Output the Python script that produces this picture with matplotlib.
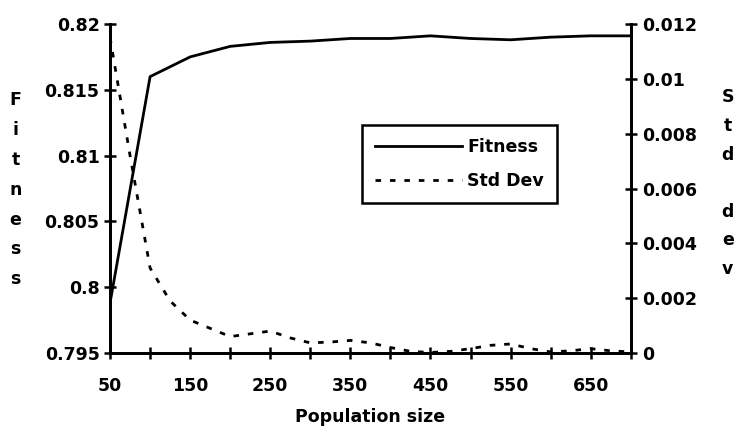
import numpy as np
import matplotlib.pyplot as plt
from matplotlib.ticker import MultipleLocator, FixedLocator

plt.rcParams['font.family'] = ['DejaVu Sans']
plt.rcParams['font.weight'] = 'bold'

pop_fit = [50, 100, 150, 200, 250, 300, 350, 400, 450, 500, 550, 600, 650, 700]
fitness = [0.7988, 0.8160, 0.8175, 0.8183, 0.8186, 0.8187, 0.8189, 0.8189,
           0.8191, 0.8189, 0.8188, 0.8190, 0.8191, 0.8191]

pop_sd = [50, 75, 100, 125, 150, 175, 200, 225, 250, 275, 300, 325, 350, 375,
          400, 425, 450, 475, 500, 525, 550, 575, 600, 625, 650, 675, 700]
std_dev = [0.0115, 0.0072, 0.0031, 0.0019, 0.0012, 0.0009, 0.0006, 0.0007,
           0.0008, 0.00055, 0.00037, 0.0004, 0.00046, 0.00037, 0.0002, 0.00006,
           0.00002, 0.00006, 0.00016, 0.00028, 0.00033, 0.00016, 0.00004,
           0.00008, 0.00016, 0.00008, 0.00004]

fig = plt.figure(figsize=(7.36, 4.34), dpi=100)
ax = fig.add_axes([0.1495, 0.1866, 0.7075, 0.7581])
ax2 = ax.twinx()

l1, = ax.plot(pop_fit, fitness, color='black', lw=2, label='Fitness')
l2, = ax2.plot(pop_sd, std_dev, color='black', lw=2, linestyle=(0, (2.0, 3.2)),
               label='Std Dev')

ax.set_xlim(50, 700)
ax.set_ylim(0.795, 0.82)
ax2.set_ylim(0, 0.012)

ax.xaxis.set_major_locator(FixedLocator([50, 150, 250, 350, 450, 550, 650]))
ax.xaxis.set_minor_locator(MultipleLocator(50))
ax.set_yticks(np.arange(0.795, 0.8201, 0.005))
ax.set_yticklabels(['0.795', '0.8', '0.805', '0.81', '0.815', '0.82'])
ax2.set_yticks(np.arange(0, 0.0121, 0.002))
ax2.set_yticklabels(['0', '0.002', '0.004', '0.006', '0.008', '0.01', '0.012'])

for a in (ax, ax2):
    a.spines['top'].set_visible(False)
    for s in ('left', 'right', 'bottom'):
        a.spines[s].set_linewidth(2)
    a.tick_params(which='both', direction='inout', length=9, width=1.8,
                  labelsize=12.5, colors='black')
ax.tick_params(axis='x', pad=13)
ax.tick_params(axis='y', pad=3)
ax2.tick_params(axis='y', pad=4)

ax.set_xlabel('Population size', fontsize=12.5, fontweight='bold', labelpad=9)
fig.text(0.021, 0.563, '\n'.join('Fitness'), ha='center', va='center',
         fontsize=12.5, fontweight='bold', linespacing=1.85)
fig.text(0.989, 0.578, '\n'.join('Std dev'), ha='center', va='center',
         fontsize=12.5, fontweight='bold', linespacing=1.76)

leg = ax.legend([l1, l2], ['Fitness', 'Std Dev'], loc='upper left',
                bbox_to_anchor=(0.4837, 0.693), borderaxespad=0,
                fancybox=False, framealpha=1, edgecolor='black',
                fontsize=12.5, handlelength=5.0, handletextpad=0.3,
                borderpad=0.75, labelspacing=0.9)
leg.get_frame().set_linewidth(1.8)
ax2.set_zorder(0)
ax.set_zorder(1)
ax.patch.set_visible(False)

fig.savefig('out.png', dpi=100)
